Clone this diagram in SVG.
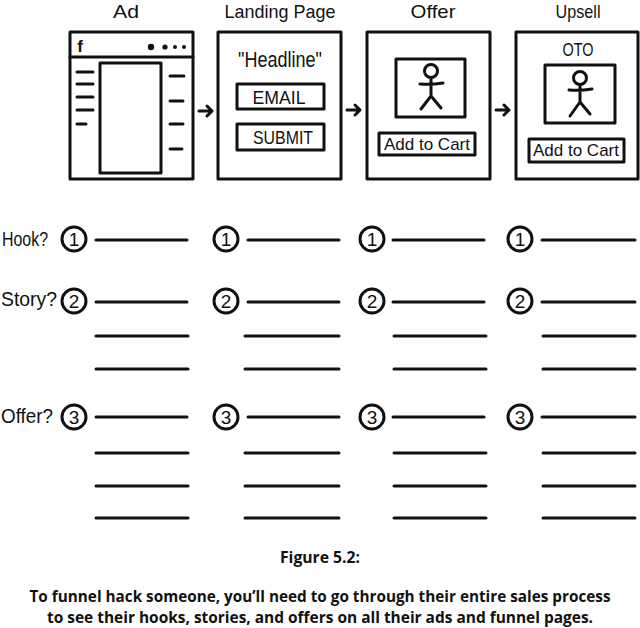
<svg xmlns="http://www.w3.org/2000/svg" width="640" height="628" viewBox="0 0 640 628">
<defs>
<style>
.b{fill:#fff;stroke:#111;stroke-width:3;stroke-linejoin:round}
.l{fill:none;stroke:#111;stroke-width:3;stroke-linecap:round;stroke-linejoin:round}
.t{font-family:"Liberation Sans",sans-serif;fill:#111;text-anchor:middle;font-size:19px}
.n{font-size:18px}
.d{font-size:19px}
.s{font-size:17px}
.c{fill:#fff;stroke:#111;stroke-width:3}
.rl{font-family:"Liberation Sans",sans-serif;fill:#111;font-size:21px}
.cap{font-family:"Open Sans",sans-serif;font-weight:700;fill:#111;text-anchor:middle;font-size:16px}
</style>
<g id="arrow"><path class="l" d="M0 0H13M8-5L13 0L8 5"/></g>
</defs>
<g id="connectors">
<use href="#arrow" x="199" y="111"/>
<use href="#arrow" x="347" y="110"/>
<use href="#arrow" x="496" y="110"/>
</g>
<g id="node-ad">
<text class="t" x="126" y="18" textLength="26" lengthAdjust="spacingAndGlyphs">Ad</text>
<rect class="b" x="70" y="32" width="123" height="147"/>
<path class="l" d="M70 57H193"/>
<text x="80" y="52" style="font-family:'Liberation Sans',sans-serif;font-weight:700;font-size:17px;fill:#111" text-anchor="middle">f</text>
<circle cx="151" cy="47" r="3.2" fill="#111"/><circle cx="165" cy="47" r="2.6" fill="#111"/><circle cx="175" cy="47" r="2" fill="#111"/><circle cx="184" cy="47" r="2" fill="#111"/>
<rect class="b" x="100" y="63" width="61" height="110"/>
<path class="l" d="M77 72H93M77 84H93M77 97H93M77 110H93M77 124H86M170 76H184M170 101H183M170 124H183M170 149H182"/>
</g>
<g id="node-landing">
<text class="t" x="280" y="18" textLength="111" lengthAdjust="spacingAndGlyphs">Landing Page</text>
<rect class="b" x="218" y="32" width="123" height="147"/>
<text class="t" x="280" y="67" textLength="84" lengthAdjust="spacingAndGlyphs" style="font-size:22px">"Headline"</text>
<rect class="b" x="237" y="84" width="87" height="25"/>
<text class="t n" x="279" y="104" textLength="53" lengthAdjust="spacingAndGlyphs">EMAIL</text>
<rect class="b" x="237" y="124" width="87" height="26"/>
<text class="t n" x="283" y="144" textLength="60" lengthAdjust="spacingAndGlyphs">SUBMIT</text>
</g>
<g id="node-offer">
<text class="t" x="433" y="18" textLength="45" lengthAdjust="spacingAndGlyphs">Offer</text>
<rect class="b" x="367" y="32" width="123" height="147"/>
<rect class="b" x="396" y="59" width="69" height="58"/>
<circle class="l" cx="431" cy="71" r="6.5"/>
<path class="l" d="M431 78V97M420 84Q431 85 443 83M431 96L421 109M431 96L441 108"/>
<rect class="b" x="379" y="133" width="96" height="22"/>
<text class="t s" x="427" y="150" textLength="86" lengthAdjust="spacingAndGlyphs">Add to Cart</text>
</g>
<g id="node-upsell">
<text class="t" x="578" y="18" textLength="45" lengthAdjust="spacingAndGlyphs">Upsell</text>
<rect class="b" x="516" y="32" width="122" height="147"/>
<text class="t n" x="578" y="56" textLength="31" lengthAdjust="spacingAndGlyphs">OTO</text>
<rect class="b" x="545" y="65" width="70" height="58"/>
<circle class="l" cx="580" cy="78" r="6.5"/>
<path class="l" d="M580 85V103M569 90Q580 91 592 89M580 102L570 116M580 102L590 114"/>
<rect class="b" x="529" y="139" width="95" height="23"/>
<text class="t s" x="576" y="156" textLength="86" lengthAdjust="spacingAndGlyphs">Add to Cart</text>
</g>
<g id="row-labels">
<text class="rl" x="2" y="246" textLength="46" lengthAdjust="spacingAndGlyphs">Hook?</text>
<text class="rl" x="1" y="306" textLength="56" lengthAdjust="spacingAndGlyphs">Story?</text>
<text class="rl" x="1" y="423" textLength="52" lengthAdjust="spacingAndGlyphs">Offer?</text>
</g>
<g id="circles">
<g><circle class="c" cx="74" cy="239" r="12"/><text class="t d" x="74" y="246">1</text></g>
<g><circle class="c" cx="226" cy="239" r="12"/><text class="t d" x="226" y="246">1</text></g>
<g><circle class="c" cx="372" cy="239" r="12"/><text class="t d" x="372" y="246">1</text></g>
<g><circle class="c" cx="520" cy="239" r="12"/><text class="t d" x="520" y="246">1</text></g>
<g><circle class="c" cx="74" cy="301" r="12"/><text class="t d" x="74" y="308">2</text></g>
<g><circle class="c" cx="226" cy="301" r="12"/><text class="t d" x="226" y="308">2</text></g>
<g><circle class="c" cx="372" cy="301" r="12"/><text class="t d" x="372" y="308">2</text></g>
<g><circle class="c" cx="520" cy="301" r="12"/><text class="t d" x="520" y="308">2</text></g>
<g><circle class="c" cx="74" cy="417" r="12"/><text class="t d" x="74" y="424">3</text></g>
<g><circle class="c" cx="226" cy="417" r="12"/><text class="t d" x="226" y="424">3</text></g>
<g><circle class="c" cx="372" cy="417" r="12"/><text class="t d" x="372" y="424">3</text></g>
<g><circle class="c" cx="520" cy="417" r="12"/><text class="t d" x="520" y="424">3</text></g>
</g>
<g id="lines" class="l">
<path d="M96 240H187M248 240H339M393 240H484M542 240H635"/>
<path d="M96 302H187M248 302H339M393 302H484M542 302H635"/>
<path d="M96 336H188M245 336H339M394 336H486M543 336H635"/>
<path d="M96 369H188M245 369H339M394 369H486M543 369H635"/>
<path d="M96 417H187M248 417H339M393 417H484M542 417H635"/>
<path d="M96 453H188M245 453H339M394 453H486M543 453H635"/>
<path d="M96 486H188M245 486H339M394 486H486M543 486H635"/>
<path d="M96 518H188M245 518H339M394 518H486M543 518H635"/>
</g>
<g id="caption">
<text class="cap" x="320" y="563" textLength="80" lengthAdjust="spacingAndGlyphs">Figure 5.2:</text>
<text class="cap" x="320" y="602" textLength="581" lengthAdjust="spacingAndGlyphs">To funnel hack someone, you’ll need to go through their entire sales process</text>
<text class="cap" x="320" y="623" textLength="546" lengthAdjust="spacingAndGlyphs">to see their hooks, stories, and offers on all their ads and funnel pages.</text>
</g>
</svg>
